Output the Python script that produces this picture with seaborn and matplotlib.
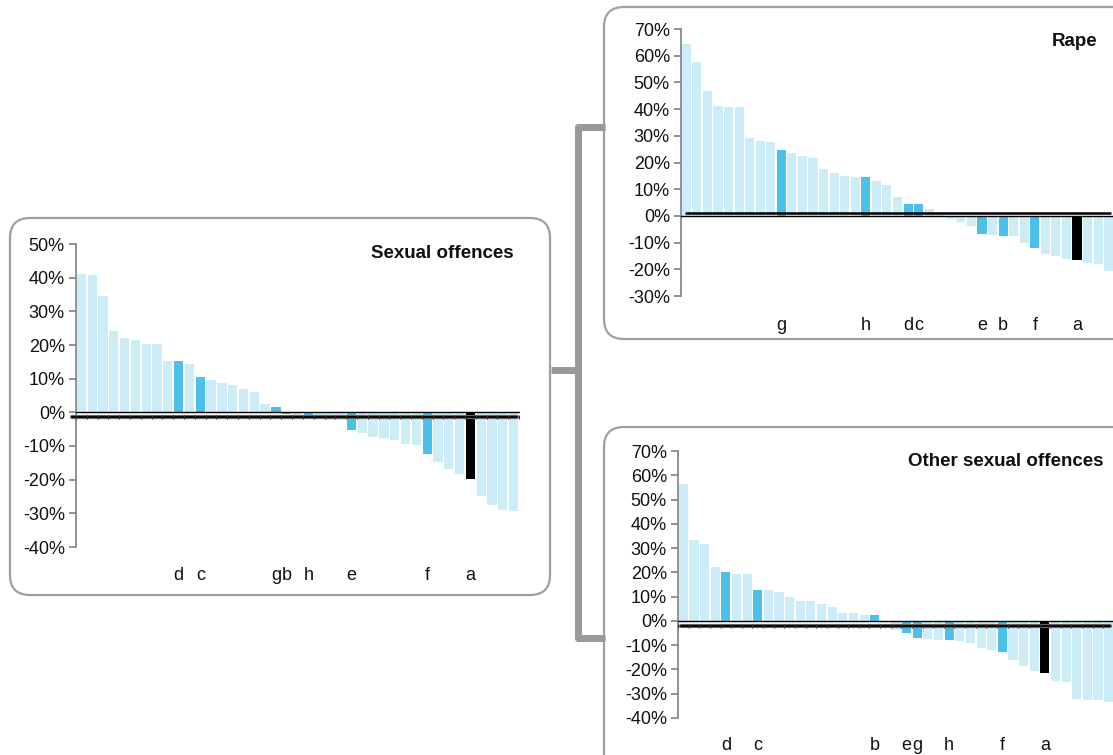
import matplotlib
matplotlib.use("Agg")
import matplotlib.pyplot as plt
import matplotlib.transforms as mtrans
from matplotlib.patches import FancyBboxPatch
from matplotlib.lines import Line2D
from matplotlib.ticker import FuncFormatter, MultipleLocator
import seaborn as sns
import pandas as pd
import numpy as np

# ---------------- data (percent change by area, sorted) ----------------
sexual_values = [41.2, 40.9, 34.7, 24.2, 22.2, 21.5, 20.4, 20.4, 15.3, 15.3,
                 14.4, 10.5, 9.6, 8.7, 8.1, 7.0, 6.1, 2.5, 1.6, -0.4,
                 -1.1, -1.4, -1.3, -2.3, -2.3, -5.3, -6.2, -7.3, -7.6, -8.2,
                 -9.4, -9.7, -12.4, -14.8, -16.9, -18.4, -19.9, -24.9, -27.6, -29.0,
                 -29.4]
sexual_labels = {"d": 9, "c": 11, "g": 18, "b": 19, "h": 21, "e": 25, "f": 32, "a": 36}
sexual_average = -1.5

rape_values = [64.2, 57.8, 46.6, 41.3, 40.9, 40.9, 29.3, 28.2, 27.5, 24.8,
               23.7, 22.6, 21.5, 17.4, 16.2, 15.1, 14.4, 14.4, 13.2, 11.7,
               6.9, 4.6, 4.6, 2.7, 0.4, -1.0, -2.1, -3.6, -6.6, -7.0,
               -7.7, -7.7, -10.0, -11.9, -14.1, -15.2, -16.0, -16.4, -17.5, -18.2,
               -20.8]
rape_labels = {"g": 9, "h": 17, "d": 21, "c": 22, "e": 28, "b": 30, "f": 33, "a": 37}
rape_average = 0.9

other_values = [56.5, 33.5, 31.8, 22.4, 20.3, 19.5, 19.5, 12.9, 12.9, 12.1,
                10.0, 8.4, 8.0, 7.1, 5.9, 3.4, 3.4, 2.6, 2.6, -0.5,
                -3.9, -4.8, -6.9, -7.3, -7.7, -7.7, -8.1, -8.9, -11.0, -11.8,
                -13.0, -16.3, -18.4, -20.8, -21.3, -24.6, -25.0, -32.0, -32.4, -32.4,
                -33.6]
other_labels = {"d": 4, "c": 7, "b": 18, "e": 21, "g": 22, "h": 25, "f": 30, "a": 34}
other_average = -2.1

titles = ["Sexual offences", "Rape", "Other sexual offences"]

# ---------------- style ----------------
sns.set_style("white")
plt.rcParams["font.family"] = ["Liberation Sans", "DejaVu Sans"]

LIGHT = "#CCECF8"
MID = "#4BC0EA"
DARK = "#000000"
GREY = "#999999"

W, H = 1113, 755
fig = plt.figure(figsize=(W / 100, H / 100), dpi=100)


def ax_rect(left, top, right, bottom):
    return [left / W, 1 - bottom / H, (right - left) / W, (bottom - top) / H]


def rounded_box(x0, y0, x1, y1, r=20):
    p = FancyBboxPatch(((x0) / 100, (H - y1) / 100), (x1 - x0) / 100, (y1 - y0) / 100,
                       boxstyle=f"round,pad=0,rounding_size={r/100}",
                       transform=fig.dpi_scale_trans, facecolor="white",
                       edgecolor="#A0A0A0", linewidth=1.6, zorder=0)
    fig.add_artist(p)


def draw_panel(rect, values, labels, average, ylim, title, title_xy, label_y,
               avg_style, avg_span):
    ax = fig.add_axes(rect)
    ax.patch.set_alpha(0)
    n = len(values)
    group = ["other"] * n
    for letter, i in labels.items():
        group[i] = "region"
    group[labels["a"]] = "a"
    df = pd.DataFrame({"pos": list(range(n)),
                       "value": np.array(values) / 100.0,
                       "group": group})
    sns.barplot(data=df, x="pos", y="value", hue="group",
                palette={"other": LIGHT, "region": MID, "a": DARK},
                dodge=False, width=0.86, saturation=1, legend=False,
                linewidth=0, ax=ax)
    ax.set_xlim(-0.5, n - 0.5)
    ax.set_ylim(*ylim)
    ax.yaxis.set_major_locator(MultipleLocator(0.1))
    ax.yaxis.set_major_formatter(FuncFormatter(lambda v, p: f"{int(round(v * 100))}%"))
    ax.set_xticks([])
    ax.set_xlabel("")
    ax.set_ylabel("")
    for s in ["top", "right", "bottom"]:
        ax.spines[s].set_visible(False)
    ax.spines["left"].set_color("#808080")
    ax.spines["left"].set_linewidth(1.2)
    ax.tick_params(axis="y", direction="out", length=5, width=1.2, color="#808080",
                   labelsize=13, labelcolor="#111111", pad=3, left=True)
    # zero line
    ax.axhline(0, color="black", linewidth=1.0, zorder=3, clip_on=False)
    # average line
    xmin, xmax = avg_span
    if avg_style == "ticked":
        ax.axhline(average / 100, xmin=xmin, xmax=xmax, color="#666666",
                   linewidth=3.0, zorder=4, clip_on=False)
        ax.axhline(average / 100, xmin=xmin, xmax=xmax, color="black",
                   linewidth=1.3, zorder=5, clip_on=False)
        tick_x = np.arange(n + 1) - 0.5
        ax.plot(tick_x, np.full(len(tick_x), average / 100), linestyle="none",
                marker="|", markersize=2.5, markeredgewidth=0.8, color="#333333",
                zorder=6, clip_on=True)
    else:
        ax.axhline(average / 100, xmin=xmin, xmax=xmax, color="black",
                   linewidth=1.8, zorder=5, clip_on=False)
    # category letters
    trans = mtrans.blended_transform_factory(ax.transData, ax.transAxes)
    for letter, i in labels.items():
        ax.text(i, label_y, letter, transform=trans, ha="center", va="center",
                fontsize=13, color="#111111")
    fig.text(title_xy[0] / W, 1 - title_xy[1] / H, title, ha="right", va="center",
             fontsize=13.5, fontweight="bold", color="#111111")
    return ax


# boxes
rounded_box(10, 218, 550, 595)
rounded_box(604, 7, 1135, 339)
rounded_box(604, 427, 1135, 790)

# connector
conn_kw = dict(color=GREY, linewidth=5, solid_capstyle="butt",
               transform=fig.transFigure, zorder=1)
def fx(x): return x / W
def fy(y): return 1 - y / H
fig.add_artist(Line2D([fx(578), fx(578)], [fy(125), fy(640)], **conn_kw))
fig.add_artist(Line2D([fx(551), fx(580)], [fy(370), fy(370)], **conn_kw))
fig.add_artist(Line2D([fx(576), fx(605)], [fy(127), fy(127)], **conn_kw))
fig.add_artist(Line2D([fx(576), fx(605)], [fy(638), fy(638)], **conn_kw))

draw_panel(ax_rect(76, 244, 519, 547), sexual_values, sexual_labels, sexual_average,
           (-0.40, 0.50), titles[0], (514, 253), -28 / 303, "ticked", (-0.01, 0.995))
draw_panel(ax_rect(681, 29, 1114, 296), rape_values, rape_labels, rape_average,
           (-0.30, 0.70), titles[1], (1097, 42), -29 / 267, "plain", (0.012, 0.99))
draw_panel(ax_rect(678, 451, 1114, 718), other_values, other_labels, other_average,
           (-0.40, 0.70), titles[2], (1104, 462), -28 / 267, "ticked", (0.008, 0.99))

fig.savefig("out.png", dpi=100)
